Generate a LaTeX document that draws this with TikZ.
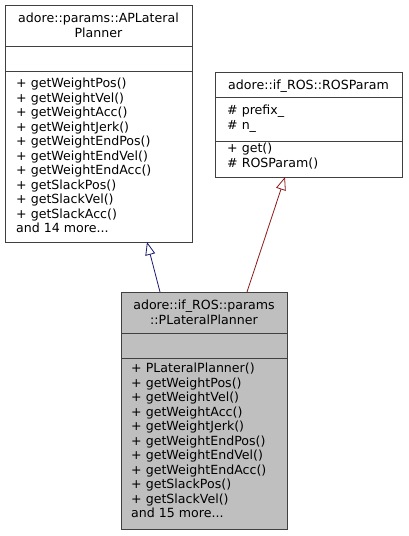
\documentclass[tikz,border=0pt]{standalone}
\usepackage{fontspec}
\setmainfont{DejaVu Sans}
\usetikzlibrary{arrows.meta}
\definecolor{edgeblue}{HTML}{191970}
\definecolor{edgered}{HTML}{8B1A1A}
\definecolor{boxline}{HTML}{404040}
\definecolor{boxfill}{HTML}{BFBFBF}
\tikzset{
  umlbox/.style={draw=boxline, line width=1pt, inner sep=0pt, anchor=north west},
  sepline/.style={draw=boxline, line width=1pt},
  titletxt/.style={inner sep=0pt, align=center, anchor=base, font=\fontsize{12.6}{14.5}\selectfont},
  listtxt/.style={inner sep=0pt, align=left, anchor=base west, font=\fontsize{12.6}{14.5}\selectfont},
  inherit/.style={line width=0.8pt, -{Triangle[open, length=13pt, width=10pt, line width=0.8pt]}}
}
\begin{document}
\begin{tikzpicture}[x=1pt,y=-1pt]
\useasboundingbox (0,0) rectangle (408,536);
% Box A: adore::params::APLateralPlanner
\node[umlbox, fill=white, minimum width=187pt, minimum height=237pt] (A) at (5,5) {};
\draw[sepline] (5,46) -- (192,46);
\draw[sepline] (5,71) -- (192,71);
\node[titletxt] (At) at (98.5,37.2) {adore::params::APLateral\\Planner};
\node[listtxt] (Am) at (16,232.5) {+ getWeightPos()\\+ getWeightVel()\\+ getWeightAcc()\\+ getWeightJerk()\\+ getWeightEndPos()\\+ getWeightEndVel()\\+ getWeightEndAcc()\\+ getSlackPos()\\+ getSlackVel()\\+ getSlackAcc()\\and 14 more...};
% Box R: adore::if_ROS::ROSParam
\node[umlbox, fill=white, minimum width=187pt, minimum height=105pt] (R) at (215,72) {};
\draw[sepline] (215,97) -- (402,97);
\draw[sepline] (215,141) -- (402,141);
\node[titletxt] (Rt) at (308.5,89) {adore::if\_ROS::ROSParam};
\node[listtxt] (Ra) at (227,129) {\# prefix\_\\\# n\_};
\node[listtxt] (Rm) at (227,167) {+ get()\\\# ROSParam()};
% Box P: adore::if_ROS::params::PLateralPlanner
\node[umlbox, fill=boxfill, minimum width=166pt, minimum height=237pt] (P) at (121,292) {};
\draw[sepline] (121,333) -- (287,333);
\draw[sepline] (121,358) -- (287,358);
\node[titletxt] (Pt) at (204,324) {adore::if\_ROS::params\\::PLateralPlanner};
\node[listtxt] (Pm) at (131,517.5) {+ PLateralPlanner()\\+ getWeightPos()\\+ getWeightVel()\\+ getWeightAcc()\\+ getWeightJerk()\\+ getWeightEndPos()\\+ getWeightEndVel()\\+ getWeightEndAcc()\\+ getSlackPos()\\+ getSlackVel()\\and 15 more...};
% Inheritance edges
\coordinate (pa) at (160,292);
\coordinate (ab) at (147,242);
\coordinate (pr) at (247,292);
\coordinate (rb) at (285,177);
\draw[inherit, draw=edgeblue] (pa) -- (ab);
\draw[inherit, draw=edgered] (pr) -- (rb);
\end{tikzpicture}
\end{document}
